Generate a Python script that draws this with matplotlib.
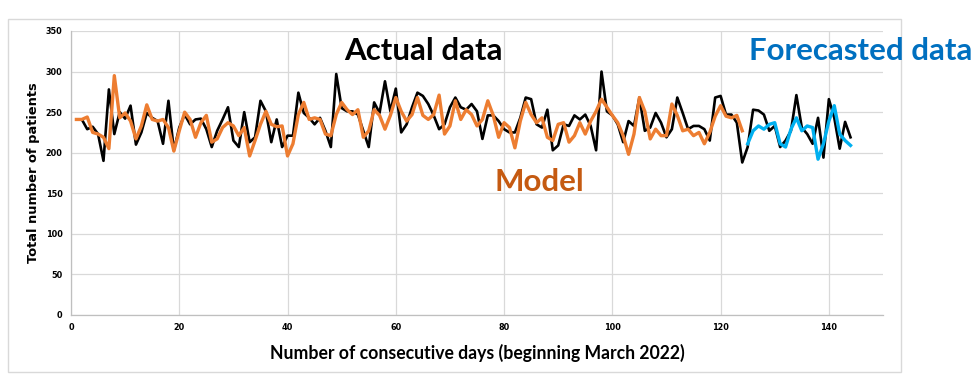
import matplotlib
matplotlib.use("Agg")
import matplotlib.pyplot as plt
from matplotlib.patches import Rectangle

# ---- data ----
actual_days = list(range(1, 145))
actual_vals = [241, 241, 229, 232, 223, 190, 278, 223, 250, 242,
               258, 210, 225, 249, 243, 239, 211, 264, 203, 231,
               247, 235, 241, 242, 229, 207, 227, 241, 256, 215,
               207, 250, 213, 219, 264, 251, 213, 241, 207, 221,
               221, 274, 249, 243, 235, 243, 227, 207, 297, 255,
               251, 251, 247, 227, 207, 262, 249, 288, 251, 279,
               225, 235, 256, 274, 270, 260, 246, 229, 235, 256,
               268, 256, 253, 260, 251, 217, 246, 246, 239, 229,
               225, 225, 243, 268, 266, 235, 231, 253, 203, 209,
               235, 233, 246, 241, 247, 233, 203, 300, 251, 246,
               235, 213, 239, 233, 268, 227, 231, 249, 237, 219,
               229, 268, 249, 229, 233, 233, 229, 215, 268, 270,
               247, 247, 237, 188, 207, 253, 252, 247, 227, 233,
               207, 215, 227, 271, 231, 223, 211, 243, 194, 266,
               243, 205, 238, 219]

model_days = list(range(1, 125))
model_vals = [241, 241, 244, 225, 223, 219, 205, 295, 243, 249,
              239, 217, 233, 259, 241, 239, 241, 231, 202, 227,
              250, 241, 219, 237, 246, 213, 217, 231, 237, 233,
              221, 231, 196, 215, 235, 251, 235, 232, 233, 196,
              211, 247, 262, 241, 243, 241, 223, 221, 247, 262,
              253, 247, 253, 219, 227, 253, 246, 229, 246, 268,
              251, 239, 247, 268, 246, 241, 247, 271, 223, 233,
              264, 241, 253, 247, 233, 241, 264, 246, 219, 237,
              231, 206, 239, 262, 247, 237, 243, 219, 215, 235,
              237, 213, 221, 237, 223, 239, 251, 266, 256, 246,
              237, 221, 198, 223, 268, 251, 217, 229, 221, 221,
              260, 246, 227, 229, 221, 225, 211, 225, 245, 258,
              245, 243, 246, 227]

forecast_days = list(range(125, 145))
forecast_vals = [211, 227, 233, 229, 235, 237, 211, 207, 229, 243,
                 227, 233, 231, 192, 211, 239, 258, 223, 215, 209]

x_ticks = [0, 20, 40, 60, 80, 100, 120, 140]
y_ticks = [0, 50, 100, 150, 200, 250, 300, 350]

# ---- figure ----
W, H = 974, 377
fig = plt.figure(figsize=(W / 100, H / 100), dpi=100)

# outer light border
fig.patches.append(Rectangle((8 / W, 1 - 372 / H), (901 - 8) / W, (372 - 19) / H,
                             transform=fig.transFigure, fill=False,
                             edgecolor="#D9D9D9", linewidth=1.0))

ax = fig.add_axes([71 / W, 1 - 315 / H, (883 - 71) / W, (315 - 31) / H])
ax.set_xlim(0, 150)
ax.set_ylim(0, 350)
ax.set_xticks(x_ticks)
ax.set_yticks(y_ticks)

ax.grid(True, color="#D9D9D9", linewidth=0.9)
ax.set_axisbelow(True)
for s in ["top", "right"]:
    ax.spines[s].set_visible(False)
for s in ["left", "bottom"]:
    ax.spines[s].set_color("#BFBFBF")
    ax.spines[s].set_linewidth(0.9)
ax.tick_params(length=0, pad=6)
for lbl in ax.get_xticklabels() + ax.get_yticklabels():
    lbl.set_fontfamily("DejaVu Sans")
    lbl.set_fontstretch("condensed")
    lbl.set_fontweight("bold")
    lbl.set_fontsize(6.5)
    lbl.set_color("#000000")

ax.plot(actual_days, actual_vals, color="#000000", linewidth=1.9, zorder=3)
ax.plot(model_days, model_vals, color="#ED7D31", linewidth=2.4, zorder=4)
ax.plot(forecast_days, forecast_vals, color="#00B0F0", linewidth=2.4, zorder=5)

ax.set_ylabel("Total number of patients", fontfamily="DejaVu Sans",
              fontweight="bold", fontsize=9.4, labelpad=4)
ax.set_xlabel("Number of consecutive days (beginning March 2022)",
              fontfamily="Lato", fontweight="bold", fontsize=12.7, labelpad=8)

fig.text(423 / W, 1 - 51 / H, "Actual data", ha="center", va="center",
         fontfamily="Lato", fontweight="bold", fontsize=22.5, color="#000000")
fig.text(861 / W, 1 - 51 / H, "Forecasted data", ha="center", va="center",
         fontfamily="Lato", fontweight="bold", fontsize=22.5, color="#0070C0")
fig.text(539 / W, 1 - 182 / H, "Model", ha="center", va="center",
         fontfamily="Lato", fontweight="bold", fontsize=22.5, color="#C55A11")

fig.savefig("out.png", dpi=100)
